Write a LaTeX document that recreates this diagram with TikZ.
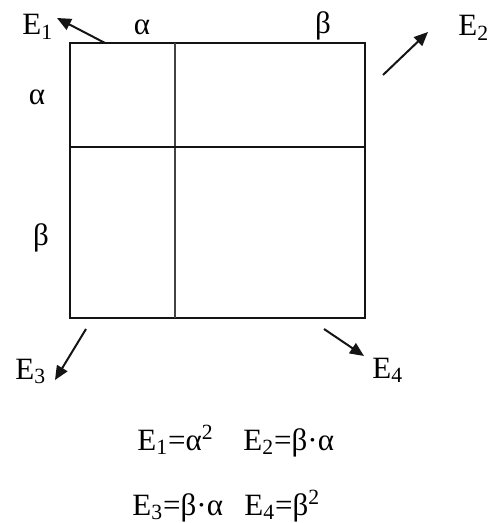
\documentclass[tikz,border=0pt]{standalone}
\usepackage{fontspec}
\setmainfont{Liberation Serif}
\usepackage{tikz}
\usetikzlibrary{arrows.meta}
\definecolor{trazo}{RGB}{20,20,20}

\begin{document}
\begin{tikzpicture}[x=0.5pt, y=-0.5pt,
    lbl/.style={inner sep=0pt, anchor=base west, font=\fontsize{15.5}{18}\selectfont},
    gr/.style={inner sep=0pt, anchor=base, font=\fontsize{15.5}{18}\selectfont},
    flecha/.style={-{Triangle[length=7pt, width=6pt]}, line width=1pt, trazo}]
        \useasboundingbox (0,0) rectangle (491,523);
        % cuadrado dividido
        \draw[trazo, line width=0.8pt] (70,43) rectangle (365,318);
        \draw[trazo!80, line width=0.9pt] (175,43) -- (175,318);
        \draw[trazo, line width=0.8pt] (70,147) -- (365,147);
        % lados
        \node[gr] (aTop) at (142,35) {α};
        \node[gr] (bTop) at (323,34) {β};
        \node[gr] (aLeft) at (37,105) {α};
        \node[gr] (bLeft) at (41,245) {β};
        % esquinas
        \node[lbl] (E1) at (22,35) {E\textsubscript{1}};
        \node[lbl] (E2) at (458,36) {E\textsubscript{2}};
        \node[lbl] (E3) at (15,379) {E\textsubscript{3}};
        \node[lbl] (E4) at (372,378) {E\textsubscript{4}};
        \coordinate (t1) at (105,43);  \coordinate (h1) at (57,18);
        \coordinate (t2) at (383,75);  \coordinate (h2) at (428,32);
        \coordinate (t3) at (86,329);  \coordinate (h3) at (55,380);
        \coordinate (t4) at (324,329); \coordinate (h4) at (364,356);
        \draw[flecha] (t1) -- (h1);
        \draw[flecha] (t2) -- (h2);
        \draw[flecha] (t3) -- (h3);
        \draw[flecha] (t4) -- (h4);
        % areas
        \node[lbl] (eq1) at (137,450) {E\textsubscript{1}=α\textsuperscript{2}};
        \node[lbl] (eq2) at (243,450) {E\textsubscript{2}=β·α};
        \node[lbl] (eq3) at (132,515) {E\textsubscript{3}=β·α};
        \node[lbl] (eq4) at (244,515) {E\textsubscript{4}=β\textsuperscript{2}};
      \end{tikzpicture}
\end{document}
